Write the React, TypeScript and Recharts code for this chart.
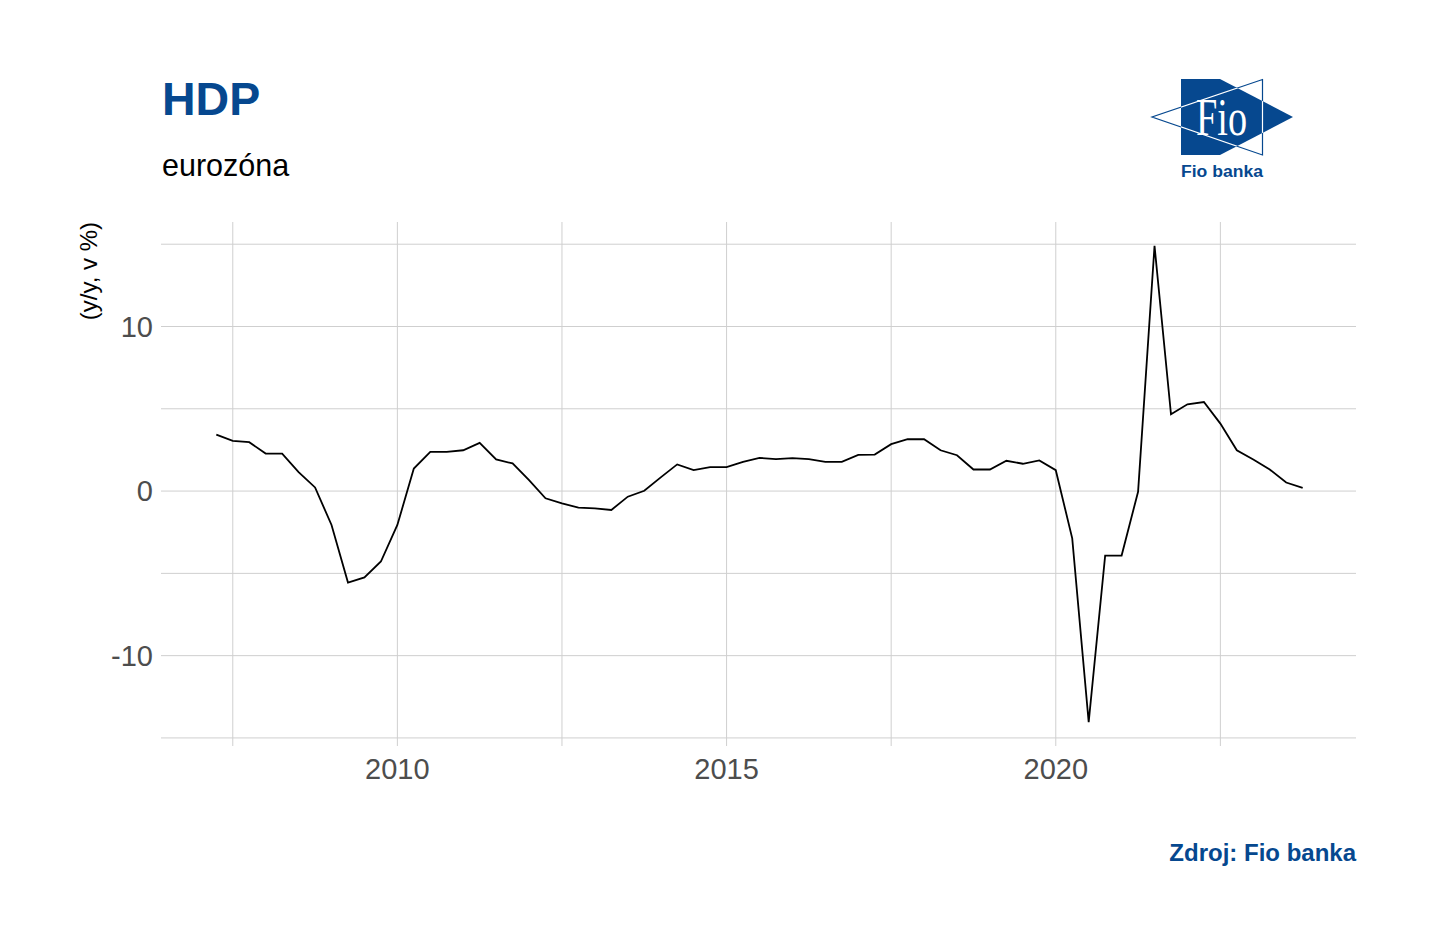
import React from "react";
import { LineChart, Line, XAxis, YAxis, CartesianGrid } from "recharts";

// Quarterly periods (x, plotted at quarter end) and GDP y/y growth in % (eurozone)
const quarters: string[] = [
  "2007Q1", "2007Q2", "2007Q3", "2007Q4",
  "2008Q1", "2008Q2", "2008Q3", "2008Q4",
  "2009Q1", "2009Q2", "2009Q3", "2009Q4",
  "2010Q1", "2010Q2", "2010Q3", "2010Q4",
  "2011Q1", "2011Q2", "2011Q3", "2011Q4",
  "2012Q1", "2012Q2", "2012Q3", "2012Q4",
  "2013Q1", "2013Q2", "2013Q3", "2013Q4",
  "2014Q1", "2014Q2", "2014Q3", "2014Q4",
  "2015Q1", "2015Q2", "2015Q3", "2015Q4",
  "2016Q1", "2016Q2", "2016Q3", "2016Q4",
  "2017Q1", "2017Q2", "2017Q3", "2017Q4",
  "2018Q1", "2018Q2", "2018Q3", "2018Q4",
  "2019Q1", "2019Q2", "2019Q3", "2019Q4",
  "2020Q1", "2020Q2", "2020Q3", "2020Q4",
  "2021Q1", "2021Q2", "2021Q3", "2021Q4",
  "2022Q1", "2022Q2", "2022Q3", "2022Q4",
  "2023Q1", "2023Q2", "2023Q3",
];

const gdpGrowth: number[] = [
  3.43, 3.05, 2.97, 2.28,
  2.28, 1.15, 0.22, -2.06,
  -5.56, -5.25, -4.28, -2.06,
  1.37, 2.38, 2.38, 2.48,
  2.93, 1.92, 1.68, 0.67,
  -0.44, -0.75, -1.01, -1.05,
  -1.15, -0.34, 0.02, 0.83,
  1.62, 1.27, 1.45, 1.45,
  1.78, 2.02, 1.94, 2.0,
  1.94, 1.78, 1.78, 2.2,
  2.22, 2.85, 3.15, 3.15,
  2.48, 2.18, 1.31, 1.31,
  1.84, 1.66, 1.86, 1.27,
  -2.87, -14.04, -3.92, -3.92,
  -0.04, 14.9, 4.67, 5.27,
  5.41, 4.1, 2.48, 1.92,
  1.31, 0.52, 0.2,
];

// grid positions; only labelled ones shown as text
const xGridTicks: number[] = [2007.5, 2010, 2012.5, 2015, 2017.5, 2020, 2022.5];
const xLabelTicks: number[] = [2010, 2015, 2020];
const yGridTicks: number[] = [-15, -10, -5, 0, 5, 10, 15];
const yLabelTicks: number[] = [-10, 0, 10];

const title = "HDP";
const subtitle = "eurozóna";
const yAxisTitle = "(y/y, v %)";
const sourceText = "Zdroj: Fio banka";
const logoMark = "Fio";
const logoName = "Fio banka";

// quarter-end as decimal year
const quarterToYear = (q: string): number => {
  const y = parseInt(q.slice(0, 4), 10);
  const n = parseInt(q.slice(5), 10);
  return y + n / 4;
};

const data = quarters.map((q, i) => ({ t: quarterToYear(q), v: gdpGrowth[i] }));

const BLUE = "#06488f";
const FONT = "'Liberation Sans', Arial, sans-serif";

export default function App() {
  return (
    <div style={{ position: "absolute", left: 0, top: 0, width: 1436, height: 944, background: "#fff" }}>
      <LineChart
        width={1436}
        height={944}
        data={data}
        margin={{ top: 222, right: 80, bottom: 168, left: 101 }}
        style={{ position: "absolute", left: 0, top: 0 }}
      >
        <CartesianGrid
          stroke="#cfcfcf"
          strokeWidth={1}
          verticalValues={xGridTicks}
          horizontalValues={yGridTicks}
        />
        <XAxis
          dataKey="t"
          type="number"
          domain={[2006.41, 2024.56]}
          ticks={xLabelTicks}
          interval={0}
          axisLine={false}
          tickLine={false}
          tickSize={6}
          tickMargin={6}
          height={30}
          tick={{ fill: "#4d4d4d", fontSize: 29, fontFamily: FONT }}
        />
        <YAxis
          type="number"
          domain={[-15.49, 16.35]}
          ticks={yLabelTicks}
          interval={0}
          axisLine={false}
          tickLine={false}
          width={60}
          tick={{ fill: "#4d4d4d", fontSize: 29, fontFamily: FONT }}
        />
        <Line
          type="linear"
          dataKey="v"
          stroke="#000"
          strokeWidth={1.8}
          dot={false}
          isAnimationActive={false}
        />
      </LineChart>
      <svg
        width={1436}
        height={944}
        style={{ position: "absolute", left: 0, top: 0, pointerEvents: "none" }}
      >
        <defs>
          <clipPath id="logoFill">
            <polygon points="1181,79 1220,79 1293,117 1220,155 1181,155" />
          </clipPath>
        </defs>
        <text x={162} y={115} fill={BLUE} fontSize={46.5} fontWeight="bold" fontFamily={FONT}>
          {title}
        </text>
        <text x={162} y={176} fill="#000" fontSize={30.5} fontFamily={FONT}>
          {subtitle}
        </text>
        <text
          transform="translate(97,222) rotate(-90)"
          textAnchor="end"
          fill="#000"
          fontSize={24}
          fontFamily={FONT}
        >
          {yAxisTitle}
        </text>
        <text x={1356} y={861} textAnchor="end" fill={BLUE} fontSize={24} fontWeight="bold" fontFamily={FONT}>
          {sourceText}
        </text>
        {/* logo */}
        <polygon points="1181,79 1220,79 1293,117 1220,155 1181,155" fill={BLUE} />
        <polygon points="1262.5,79.5 1262.5,155 1152,117" fill="none" stroke={BLUE} strokeWidth={1.2} />
        <polygon
          points="1262.5,79.5 1262.5,155 1152,117"
          fill="none"
          stroke="#fff"
          strokeWidth={1.2}
          clipPath="url(#logoFill)"
        />
        <text
          x={1196}
          y={135}
          fill="#fff"
          fontSize={52}
          fontFamily="'Liberation Serif', 'Times New Roman', serif"
          textLength={51}
          lengthAdjust="spacingAndGlyphs"
        >
          {logoMark}
        </text>
        <text
          x={1222}
          y={177}
          textAnchor="middle"
          fill={BLUE}
          fontSize={16}
          fontWeight="bold"
          fontFamily={FONT}
          textLength={82}
          lengthAdjust="spacingAndGlyphs"
        >
          {logoName}
        </text>
      </svg>
    </div>
  );
}
